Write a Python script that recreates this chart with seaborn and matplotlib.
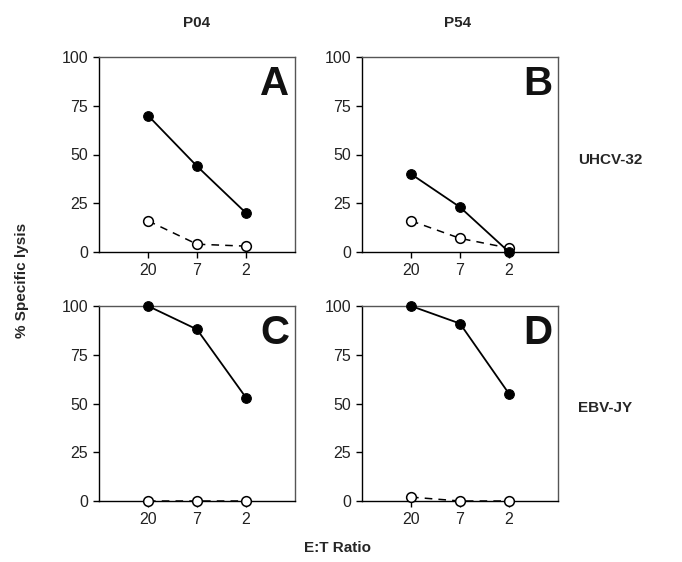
import matplotlib
matplotlib.use("Agg")
import matplotlib.pyplot as plt
import seaborn as sns
import pandas as pd

sns.set_theme(style="white")
plt.rcParams['font.family'] = ['Liberation Sans', 'DejaVu Sans']

et_ratios = ["20", "7", "2"]
panels = ["A", "B", "C", "D"]
columns = ["P04", "P54"]
rows = ["UHCV-32", "EBV-JY"]
filled_A = [70, 44, 20]
open_A = [16, 4, 3]
filled_B = [40, 23, 0]
open_B = [16, 7, 2]
filled_C = [100, 88, 53]
open_C = [0, 0, 0]
filled_D = [100, 91, 55]
open_D = [2, 0, 0]
yticks = [0, 25, 50, 75, 100]

data = {"A": (filled_A, open_A), "B": (filled_B, open_B),
        "C": (filled_C, open_C), "D": (filled_D, open_D)}

fig = plt.figure(figsize=(6.82, 5.62), dpi=100)
W, H = 682, 562
lefts = [99, 362]
tops = [57, 306]
aw, ah = 196, 195

for i, p in enumerate(panels):
    r, c = divmod(i, 2)
    ax = fig.add_axes([lefts[c] / W, 1 - (tops[r] + ah) / H, aw / W, ah / H])
    f, o = data[p]
    xs = list(range(len(et_ratios)))
    df_o = pd.DataFrame({"x": xs, "y": o})
    df_f = pd.DataFrame({"x": xs, "y": f})
    sns.lineplot(data=df_o, x="x", y="y", ax=ax, color="black", linewidth=1.1,
                 linestyle=(0, (5, 4)), marker="o", markersize=7,
                 markerfacecolor="white", markeredgecolor="black", markeredgewidth=1.1,
                 clip_on=False, zorder=5)
    sns.lineplot(data=df_f, x="x", y="y", ax=ax, color="black", linewidth=1.3,
                 marker="o", markersize=7, markerfacecolor="black",
                 markeredgecolor="black", clip_on=False, zorder=6)
    ax.set_xlim(-1, 3)
    ax.set_ylim(0, 100)
    ax.set_xticks(xs)
    ax.set_xticklabels(et_ratios)
    ax.set_yticks(yticks)
    ax.set_xlabel("")
    ax.set_ylabel("")
    for s in ax.spines.values():
        s.set_color("#555555")
        s.set_linewidth(1.0)
    ax.spines['left'].set_color("black")
    ax.spines['bottom'].set_color("black")
    ax.tick_params(axis="both", direction="out", length=4, width=1, color="black",
                   labelsize=11.5, pad=4, left=True, bottom=True)
    for lab in ax.get_xticklabels() + ax.get_yticklabels():
        lab.set_color("#222222")
    ax.text(0.97, 0.96, p, transform=ax.transAxes, ha="right", va="top",
            fontsize=29, fontweight="bold", color="#111111")

fig.text(197 / W, 1 - 23 / H, columns[0], ha="center", va="center",
         fontsize=11, fontweight="bold")
fig.text(458 / W, 1 - 23 / H, columns[1], ha="center", va="center",
         fontsize=11, fontweight="bold")
fig.text(610 / W, 1 - 160 / H, rows[0], ha="center", va="center",
         fontsize=11, fontweight="bold")
fig.text(605 / W, 1 - 408 / H, rows[1], ha="center", va="center",
         fontsize=11, fontweight="bold")
fig.text(22 / W, 1 - 280 / H, "% Specific lysis", ha="center", va="center",
         rotation=90, fontsize=11, fontweight="bold")
fig.text(338 / W, 1 - 548 / H, "E:T Ratio", ha="center", va="center",
         fontsize=11, fontweight="bold")

fig.savefig("out.png", dpi=100, facecolor="white")
